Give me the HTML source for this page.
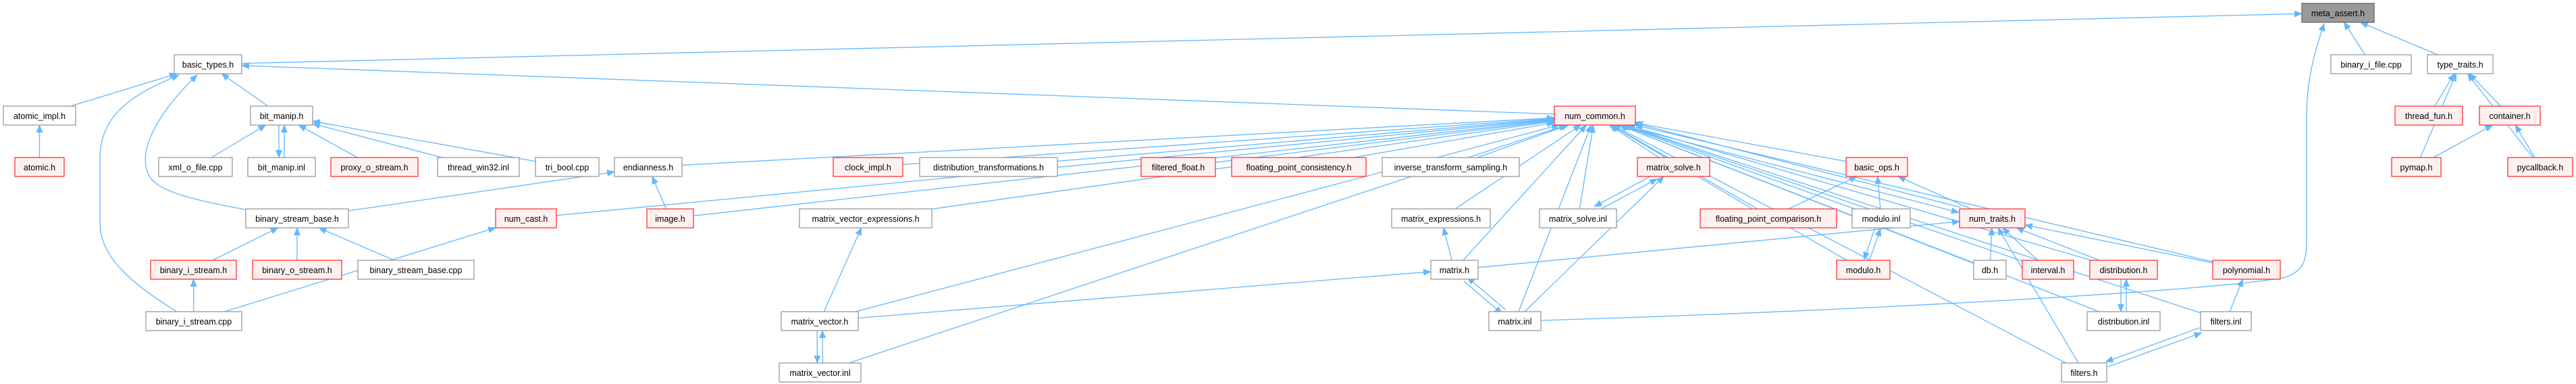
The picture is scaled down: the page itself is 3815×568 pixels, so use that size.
<!DOCTYPE html>
<html><head><meta charset="utf-8">
<style>
html,body{margin:0;padding:0;background:#fff;}
svg{display:block;}
text{font-family:"Liberation Sans",sans-serif;font-size:12.5px;fill:#000;text-anchor:middle;}
.n{fill:#fff;stroke:#999;stroke-width:1.3;}
.r{fill:#fff0f0;stroke:#ff3333;stroke-width:1.3;}
.g{fill:#999;stroke:#666;stroke-width:1.3;}
.e{fill:none;stroke:#63b8ff;stroke-width:1.3;}
</style></head>
<body>
<svg id="s" width="3815" height="568" viewBox="0 0 3815 568" xmlns="http://www.w3.org/2000/svg">
<defs><marker id="a" markerWidth="12" markerHeight="10" refX="11" refY="5" orient="auto" markerUnits="userSpaceOnUse"><path d="M0,0 L12,5 L0,10 Z" fill="#63b8ff"/></marker></defs>
<g id="edges">
<path class="e" marker-end="url(#a)" d="M2282,474 C2800,458 3300,428 3385,410 C3408,402 3416,388 3416,360 L3416,170 C3416,120 3428,75 3442,35"/>
<path class="e" marker-end="url(#a)" d="M262,461 C195,420 148,380 148,330 L148,235 C148,170 195,140 265,111"/>
<path class="e" marker-end="url(#a)" d="M364,310 C280,295 235,282 222,262 C200,225 235,165 292,111"/>
</g>
<g id="nodes">
<rect class="g" x="3409" y="5" width="107" height="28"/><text x="3462.5" y="24">meta_assert.h</text>
<rect class="n" x="258" y="81" width="100" height="28"/><text x="308" y="100">basic_types.h</text>
<rect class="n" x="3452" y="81" width="119" height="28"/><text x="3511.5" y="100">binary_i_file.cpp</text>
<rect class="n" x="3595" y="81" width="97" height="28"/><text x="3643.5" y="100">type_traits.h</text>
<rect class="n" x="5" y="157" width="107" height="28"/><text x="58.5" y="176">atomic_impl.h</text>
<rect class="n" x="371" y="157" width="92" height="28"/><text x="417" y="176">bit_manip.h</text>
<rect class="r" x="2302" y="157" width="120" height="28"/><text x="2362" y="176">num_common.h</text>
<rect class="r" x="3547" y="157" width="100" height="28"/><text x="3597" y="176">thread_fun.h</text>
<rect class="r" x="3672" y="157" width="90" height="28"/><text x="3717" y="176">container.h</text>
<rect class="r" x="22" y="233" width="73" height="28"/><text x="58.5" y="252">atomic.h</text>
<rect class="n" x="235" y="233" width="109" height="28"/><text x="289.5" y="252">xml_o_file.cpp</text>
<rect class="n" x="367" y="233" width="100" height="28"/><text x="417" y="252">bit_manip.inl</text>
<rect class="r" x="490" y="233" width="129" height="28"/><text x="554.5" y="252">proxy_o_stream.h</text>
<rect class="n" x="648" y="233" width="121" height="28"/><text x="708.5" y="252">thread_win32.inl</text>
<rect class="n" x="793" y="233" width="94" height="28"/><text x="840" y="252">tri_bool.cpp</text>
<rect class="n" x="910" y="233" width="100" height="28"/><text x="960" y="252">endianness.h</text>
<rect class="r" x="1234" y="233" width="103" height="28"/><text x="1285.5" y="252">clock_impl.h</text>
<rect class="n" x="1362" y="233" width="204" height="28"/><text x="1464" y="252">distribution_transformations.h</text>
<rect class="r" x="1690" y="233" width="110" height="28"/><text x="1745" y="252">filtered_float.h</text>
<rect class="r" x="1824" y="233" width="199" height="28"/><text x="1923.5" y="252">floating_point_consistency.h</text>
<rect class="n" x="2047" y="233" width="203" height="28"/><text x="2148.5" y="252">inverse_transform_sampling.h</text>
<rect class="r" x="2425" y="233" width="107" height="28"/><text x="2478.5" y="252">matrix_solve.h</text>
<rect class="r" x="2734" y="233" width="91" height="28"/><text x="2779.5" y="252">basic_ops.h</text>
<rect class="r" x="3542" y="233" width="73" height="28"/><text x="3578.5" y="252">pymap.h</text>
<rect class="r" x="3714" y="233" width="96" height="28"/><text x="3762" y="252">pycallback.h</text>
<rect class="n" x="364" y="309" width="152" height="28"/><text x="440" y="328">binary_stream_base.h</text>
<rect class="r" x="734" y="309" width="90" height="28"/><text x="779" y="328">num_cast.h</text>
<rect class="r" x="958" y="309" width="69" height="28"/><text x="992.5" y="328">image.h</text>
<rect class="n" x="1184" y="309" width="196" height="28"/><text x="1282" y="328">matrix_vector_expressions.h</text>
<rect class="n" x="2061" y="309" width="146" height="28"/><text x="2134" y="328">matrix_expressions.h</text>
<rect class="n" x="2280" y="309" width="114" height="28"/><text x="2337" y="328">matrix_solve.inl</text>
<rect class="r" x="2518" y="309" width="202" height="28"/><text x="2619" y="328">floating_point_comparison.h</text>
<rect class="n" x="2743" y="309" width="86" height="28"/><text x="2786" y="328">modulo.inl</text>
<rect class="r" x="2902" y="309" width="97" height="28"/><text x="2950.5" y="328">num_traits.h</text>
<rect class="r" x="223" y="385" width="127" height="28"/><text x="286.5" y="404">binary_i_stream.h</text>
<rect class="r" x="374" y="385" width="132" height="28"/><text x="440" y="404">binary_o_stream.h</text>
<rect class="n" x="530" y="385" width="172" height="28"/><text x="616" y="404">binary_stream_base.cpp</text>
<rect class="n" x="2119" y="385" width="70" height="28"/><text x="2154" y="404">matrix.h</text>
<rect class="r" x="2720" y="385" width="79" height="28"/><text x="2759.5" y="404">modulo.h</text>
<rect class="n" x="2923" y="385" width="48" height="28"/><text x="2947" y="404">db.h</text>
<rect class="r" x="2995" y="385" width="76" height="28"/><text x="3033" y="404">interval.h</text>
<rect class="r" x="3095" y="385" width="100" height="28"/><text x="3145" y="404">distribution.h</text>
<rect class="r" x="3277" y="385" width="100" height="28"/><text x="3327" y="404">polynomial.h</text>
<rect class="n" x="216" y="461" width="142" height="28"/><text x="287" y="480">binary_i_stream.cpp</text>
<rect class="n" x="1157" y="461" width="114" height="28"/><text x="1214" y="480">matrix_vector.h</text>
<rect class="n" x="2205" y="461" width="77" height="28"/><text x="2243.5" y="480">matrix.inl</text>
<rect class="n" x="3091" y="461" width="108" height="28"/><text x="3145" y="480">distribution.inl</text>
<rect class="n" x="3259" y="461" width="75" height="28"/><text x="3296.5" y="480">filters.inl</text>
<rect class="n" x="1154" y="537" width="121" height="28"/><text x="1214.5" y="556">matrix_vector.inl</text>
<rect class="n" x="3053" y="537" width="67" height="28"/><text x="3086.5" y="556">filters.h</text>
</g>
</svg>
<script>
(function(){
var N={};
document.querySelectorAll('#nodes rect').forEach(function(r){
  var t=r.nextElementSibling.textContent;
  N[t]={x:+r.getAttribute('x'),y:+r.getAttribute('y'),w:+r.getAttribute('width'),h:+r.getAttribute('height')};
});
function bp(n,tx,ty){
  var cx=n.x+n.w/2,cy=n.y+n.h/2,dx=tx-cx,dy=ty-cy;
  var t=Math.min(Math.abs(dx)>1e-6?(n.w/2)/Math.abs(dx):1e9,Math.abs(dy)>1e-6?(n.h/2)/Math.abs(dy):1e9);
  return [cx+dx*t,cy+dy*t];
}
var E=[
["basic_types.h","meta_assert.h"],["binary_i_file.cpp","meta_assert.h"],["type_traits.h","meta_assert.h"],
["atomic_impl.h","basic_types.h"],["bit_manip.h","basic_types.h"],["num_common.h","basic_types.h"],
["atomic.h","atomic_impl.h"],["xml_o_file.cpp","bit_manip.h"],["bit_manip.inl","bit_manip.h",1],["proxy_o_stream.h","bit_manip.h"],["thread_win32.inl","bit_manip.h"],["tri_bool.cpp","bit_manip.h"],["bit_manip.h","bit_manip.inl",1],
["binary_stream_base.h","endianness.h"],["binary_i_stream.h","binary_stream_base.h"],["binary_o_stream.h","binary_stream_base.h"],["binary_stream_base.cpp","binary_stream_base.h"],
["binary_i_stream.cpp","binary_i_stream.h"],["binary_i_stream.cpp","num_cast.h"],["image.h","endianness.h"],
["num_common.h","num_traits.h",1],["num_traits.h","num_common.h",1],
["matrix_vector.h","matrix_vector_expressions.h"],["matrix_vector.inl","matrix_vector.h",1],["matrix_vector.h","matrix_vector.inl",1],["matrix_vector.h","matrix.h"],
["matrix.h","matrix_expressions.h"],["matrix.inl","matrix.h",1],["matrix.h","matrix.inl",1],["matrix.inl","matrix_solve.h"],
["matrix_solve.inl","matrix_solve.h",1],["matrix_solve.h","matrix_solve.inl",1],["matrix.h","num_traits.h"],
["modulo.h","modulo.inl",1],["modulo.inl","modulo.h",1],["modulo.inl","basic_ops.h"],["floating_point_comparison.h","basic_ops.h"],["num_traits.h","basic_ops.h"],
["db.h","num_traits.h"],["interval.h","num_traits.h"],["distribution.h","num_traits.h"],["filters.h","num_traits.h"],["polynomial.h","num_traits.h"],
["distribution.inl","distribution.h",1],["distribution.h","distribution.inl",1],["filters.h","filters.inl",1],["filters.inl","filters.h",1],["filters.inl","polynomial.h"],
["thread_fun.h","type_traits.h"],["container.h","type_traits.h"],["pymap.h","type_traits.h"],["pycallback.h","type_traits.h"],["pymap.h","container.h"],["pycallback.h","container.h"]
];
["endianness.h","num_cast.h","image.h","clock_impl.h","distribution_transformations.h","filtered_float.h","floating_point_consistency.h","inverse_transform_sampling.h","matrix_expressions.h","matrix_vector_expressions.h","matrix_vector.h","matrix_vector.inl","matrix_solve.h","matrix_solve.inl","matrix.inl","matrix.h","basic_ops.h","floating_point_comparison.h","modulo.inl","modulo.h","db.h","interval.h","distribution.h","distribution.inl","polynomial.h","filters.h","filters.inl"].forEach(function(c){E.push([c,"num_common.h"]);});
var g=document.getElementById('edges'),s='';
E.forEach(function(e){
  var a=N[e[0]],b=N[e[1]];if(!a||!b)return;
  var ac=[a.x+a.w/2,a.y+a.h/2],bc=[b.x+b.w/2,b.y+b.h/2];
  var p=bp(a,bc[0],bc[1]),q=bp(b,ac[0],ac[1]);
  if(e[2]){var dx=q[0]-p[0],dy=q[1]-p[1],L=Math.sqrt(dx*dx+dy*dy)||1,ox=-dy/L*4,oy=dx/L*4;p=[p[0]+ox,p[1]+oy];q=[q[0]+ox,q[1]+oy];}
  s+='<path class="e" marker-end="url(#a)" d="M'+p[0].toFixed(1)+','+p[1].toFixed(1)+' L'+q[0].toFixed(1)+','+q[1].toFixed(1)+'"/>';
});
g.insertAdjacentHTML('beforeend',s);
})();
</script>
</body></html>
